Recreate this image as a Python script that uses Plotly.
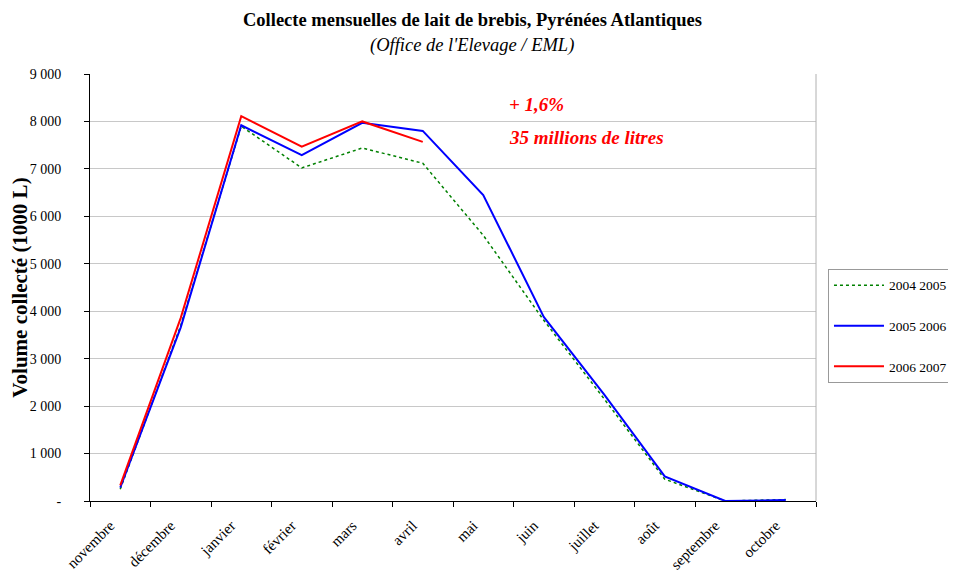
import plotly.graph_objects as go

months = ["novembre", "décembre", "janvier", "février", "mars", "avril",
          "mai", "juin", "juillet", "août", "septembre", "octobre"]
s2004_2005 = [250, 3700, 7900, 7020, 7440, 7120, 5600, 3810, 2150, 460, 0, 30]
s2005_2006 = [280, 3660, 7920, 7290, 7970, 7800, 6450, 3880, 2240, 520, 0, 20]
s2006_2007 = [330, 3860, 8110, 7470, 8000, 7570]
ytick_vals = [0, 1000, 2000, 3000, 4000, 5000, 6000, 7000, 8000, 9000]
ytick_text = ["-", "1 000", "2 000", "3 000", "4 000", "5 000", "6 000", "7 000", "8 000", "9 000"]

FONT = "Liberation Serif"

fig = go.Figure()
fig.add_trace(go.Scatter(x=months, y=s2004_2005, mode="lines", name="2004 2005",
                         line=dict(color="#008000", width=1.5, dash="dot"), legendgroup="a"))
fig.add_trace(go.Scatter(x=months, y=s2005_2006, mode="lines", name="2005 2006",
                         line=dict(color="#0000FF", width=2), legendgroup="b"))
fig.add_trace(go.Scatter(x=months[:len(s2006_2007)], y=s2006_2007, mode="lines", name="2006 2007",
                         line=dict(color="#FF0000", width=2), legendgroup="c"))

fig.update_layout(
    width=948, height=570,
    margin=dict(l=82, r=140, t=66, b=77, autoexpand=False),
    paper_bgcolor="white", plot_bgcolor="white",
    font=dict(family=FONT, size=13, color="black"),
    showlegend=True,
    legend=dict(x=1.0165, xanchor="left", y=0.41, yanchor="middle",
                font=dict(family=FONT, size=13.5),
                bordercolor="#999999", borderwidth=1, bgcolor="white",
                tracegroupgap=20, itemwidth=50),
    xaxis=dict(type="category", categoryorder="array", categoryarray=months,
               range=[-0.5, 11.5], tickangle=-45, tickson="boundaries",
               ticks="outside", ticklen=5, tickcolor="black",
               showline=True, linecolor="black", linewidth=1,
               showgrid=False, ticklabelstandoff=9, ticklabelshift=-10,
               tickfont=dict(family=FONT, size=15)),
    yaxis=dict(range=[0, 9000], tickvals=ytick_vals, ticktext=ytick_text,
               ticks="outside", ticklen=5, tickcolor="black",
               showline=True, linecolor="black", linewidth=1,
               showgrid=True, gridcolor="#c8c8c8", gridwidth=1,
               ticklabelstandoff=20, zeroline=False,
               title=dict(text="<b>Volume collecté (1000 L)</b>", standoff=7,
                          font=dict(family=FONT, size=21)),
               tickfont=dict(family=FONT, size=14)),
)

fig.add_annotation(xref="paper", yref="paper", x=0.5, y=1, yshift=54, xshift=19,
                   xanchor="center", yanchor="middle", showarrow=False,
                   text="<b>Collecte mensuelles de lait de brebis, Pyrénées Atlantiques</b>",
                   font=dict(family=FONT, size=18.5))
fig.add_annotation(xref="paper", yref="paper", x=0.5, y=1, yshift=29, xshift=19,
                   xanchor="center", yanchor="middle", showarrow=False,
                   text="<i>(Office de l'Elevage / EML)</i>",
                   font=dict(family=FONT, size=18.5))

fig.add_shape(type="line", xref="paper", yref="paper", x0=1, x1=1, y0=0, y1=1,
              line=dict(color="#b0b0b0", width=1))

fig.add_annotation(xref="x", yref="y", x=6.39, y=8350, xanchor="left", yanchor="middle",
                   text="<b><i>+ 1,6%</i></b>", showarrow=False,
                   font=dict(family=FONT, size=19, color="#FF0000"))
fig.add_annotation(xref="x", yref="y", x=6.39, y=7670, xanchor="left", yanchor="middle",
                   text="<b><i>35 millions de litres</i></b>", showarrow=False,
                   font=dict(family=FONT, size=19, color="#FF0000"))

fig.write_html("out.html")
